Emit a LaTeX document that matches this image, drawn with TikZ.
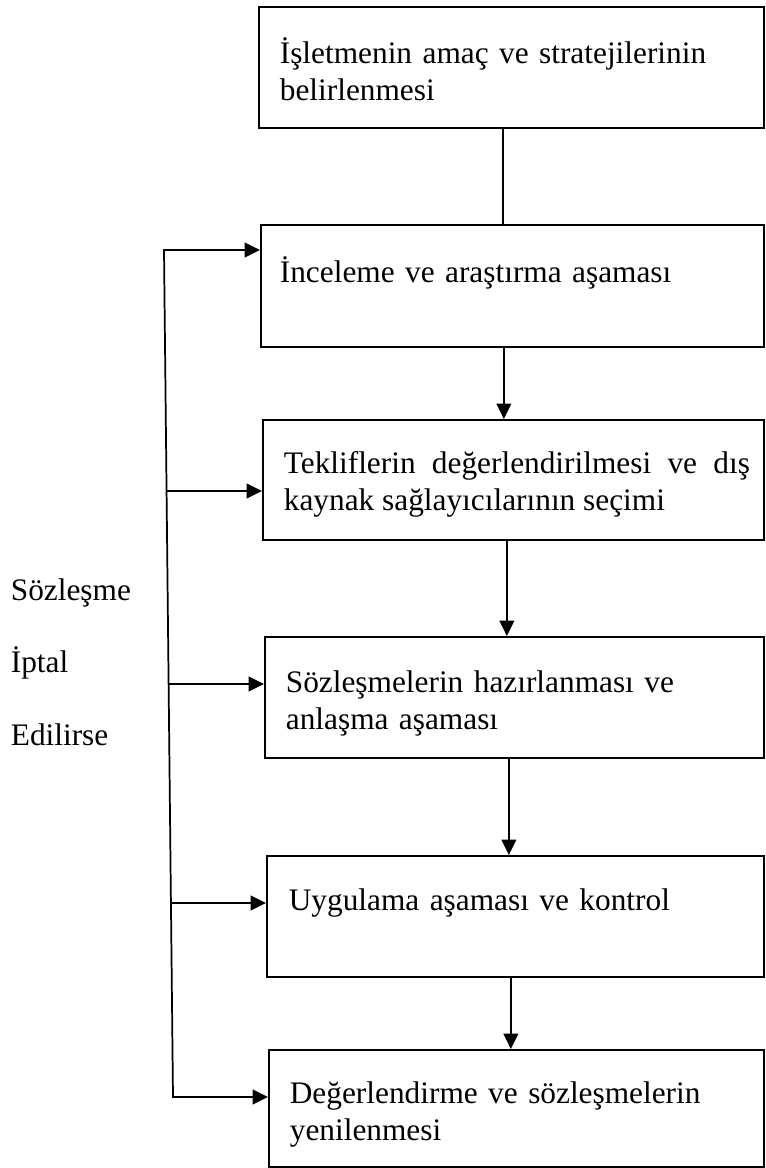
\documentclass[tikz,border=0pt]{standalone}
\usepackage{fontspec}
\setmainfont{Liberation Serif}
\usetikzlibrary{arrows.meta,calc}

\begin{document}
\begin{tikzpicture}[x=0.75pt,y=-0.75pt,line width=1.3pt,
	>={Triangle[length=11.5pt,width=11pt]},
	stage/.style={draw,anchor=north west,inner sep=0pt},
	txt/.style={anchor=base west,inner sep=0pt,align=left,text width=470*0.75pt,
		font=\fontsize{23.5}{27.75}\selectfont}]

\useasboundingbox (0,0) rectangle (765,1168);

\def\rgt{763}

% stages
\node[stage,minimum width={(\rgt-258)*0.75pt},minimum height=121*0.75pt] (b1) at (258,6) {};
\node[stage,minimum width={(\rgt-260)*0.75pt},minimum height=122*0.75pt] (b2) at (260,224) {};
\node[stage,minimum width={(\rgt-262)*0.75pt},minimum height=120*0.75pt] (b3) at (262,419) {};
\node[stage,minimum width={(\rgt-264)*0.75pt},minimum height=121*0.75pt] (b4) at (264,636) {};
\node[stage,minimum width={(\rgt-266)*0.75pt},minimum height=121*0.75pt] (b5) at (266,855) {};
\node[stage,minimum width={(\rgt-268)*0.75pt},minimum height=117*0.75pt] (b6) at (268,1049) {};

\node[txt] (t1) at (279,63) {İşletmenin amaç ve stratejilerinin\\belirlenmesi};
\node[txt] (t2) at (279,282) {İnceleme ve araştırma aşaması};
\node[txt,text width=466*0.75pt,align=justify] (t3) at (283,473)
	{Tekliflerin değerlendirilmesi ve dış\linebreak kaynak sağlayıcılarının seçimi};
\node[txt] (t4) at (285,692) {Sözleşmelerin hazırlanması ve\\anlaşma aşaması};
\node[txt] (t5) at (288,910) {Uygulama aşaması ve kontrol};
\node[txt] (t6) at (289,1103) {Değerlendirme ve sözleşmelerin\\yenilenmesi};

% main flow
\draw ([xshift=-6.4pt]b1.south) -- ([xshift=-6.4pt]b1.south |- b2.north);
\draw[->] ([xshift=-6.4pt]b2.south) -- ([xshift=-6.4pt]b2.south |- b3.north);
\draw[->] ([xshift=-4.9pt]b3.south) -- ([xshift=-4.9pt]b3.south |- b4.north);
\draw[->] ([xshift=-4.1pt]b4.south) -- ([xshift=-4.1pt]b4.south |- b5.north);
\draw[->] ([xshift=-3.4pt]b5.south) -- ([xshift=-3.4pt]b5.south |- b6.north);

% cancellation loop
\coordinate (l2) at (164,250);
\coordinate (l3) at (166,491);
\coordinate (l4) at (168,684);
\coordinate (l5) at (170,903);
\coordinate (l6) at (173,1097);

\draw[line cap=rect] (l2) -- (l6);
\foreach \i in {2,...,6}
	\draw[->] (l\i) -- (l\i -| b\i.west);

\node[txt] (s1) at (10,600) {Sözleşme};
\node[txt] (s2) at (10,672) {İptal};
\node[txt] (s3) at (10,745) {Edilirse};

\end{tikzpicture}
\end{document}
